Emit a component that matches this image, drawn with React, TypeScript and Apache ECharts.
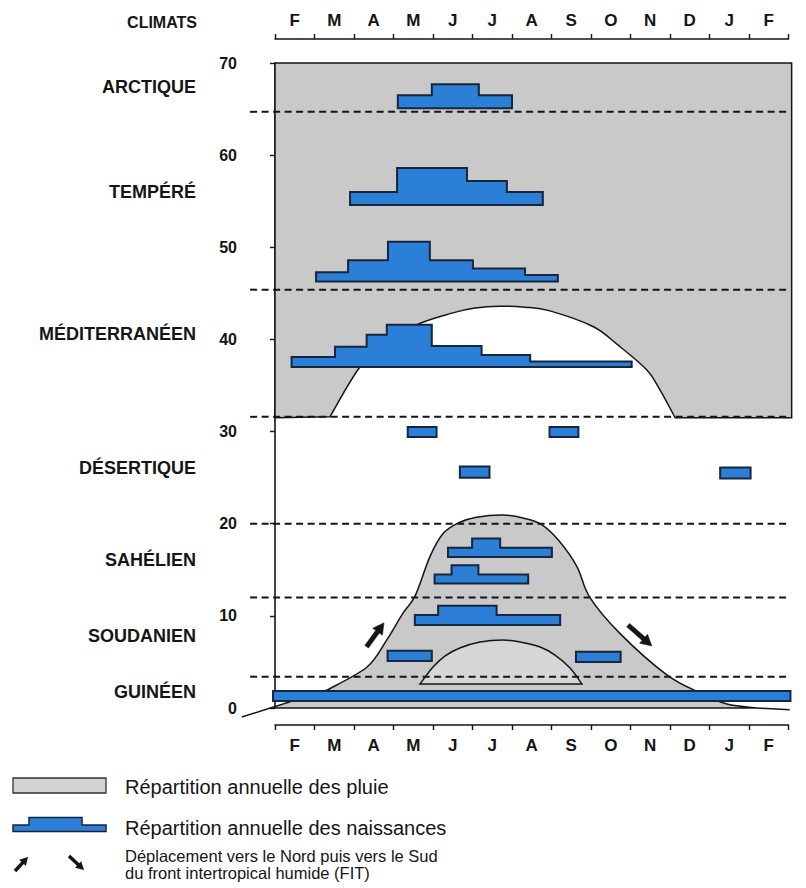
import React, { useEffect, useRef } from "react";
import * as echarts from "echarts";

// ---------- DATA ----------
const months = ["F", "M", "A", "M", "J", "J", "A", "S", "O", "N", "D", "J", "F"];

const climates = ["ARCTIQUE", "TEMPÉRÉ", "MÉDITERRANÉEN", "DÉSERTIQUE", "SAHÉLIEN", "SOUDANIEN", "GUINÉEN"];
const climateLevels = [67.4, 56.0, 40.6, 26.0, 16.1, 7.8, 1.7];

// limits between climate zones (dashed lines)
const zoneLimits = [64.7, 45.4, 31.6, 20.0, 12.0, 3.4];

// rain distribution, upper block (months x, latitude-ish y)
const upperRainX = [0, 13.08];
const upperRainY = [31.5, 70];
// dry season arch cut in the Mediterranean block
const medDryX = [1.39, 2.15, 2.83, 3.59, 4.43, 5.06, 5.7, 6.33, 6.96, 8.05, 8.68, 9.41, 9.75, 10.13];
const medDryY = [31.6, 37.0, 39.6, 41.6, 42.8, 43.4, 43.6, 43.5, 43.1, 41.4, 39.4, 36.7, 34.5, 31.5];

// tropical rain bell (FIT)
const bellFoot = [-0.84, -0.98];
const bellX = [1.32, 2.33, 2.83, 3.24, 3.55, 3.92, 4.25, 4.65, 5.1, 5.77, 6.3, 6.75, 7.2, 7.65, 7.97, 8.73, 9.92, 10.76, 11.44, 12.2];
const bellY = [1.95, 4.45, 7.4, 10.3, 12.2, 16.4, 18.9, 20.1, 20.7, 20.95, 20.6, 19.9, 18.1, 15.3, 12.0, 8.1, 3.6, 1.66, 0.43, 0];
const baseEnd = [13.03, -0.2];

// inner dome (Guinean short dry season)
const domeX = [3.67, 4.0, 4.3, 4.68, 5.19, 5.77, 6.2, 6.71, 7.09, 7.47, 7.77];
const domeY = [2.6, 4.45, 5.64, 6.51, 7.16, 7.38, 7.16, 6.62, 5.75, 4.34, 2.6];

// births distribution (step profiles): base, step edges (months), step tops
const arctiqueBirth = { base: 65.1, edges: [3.11, 3.97, 5.16, 6.0], tops: [66.5, 67.7, 66.5] };
const tempereBirth = { base: 54.6, edges: [1.9, 3.09, 4.86, 5.87, 6.78], tops: [56.0, 58.6, 57.2, 56.0] };
const medHautBirth = { base: 46.3, edges: [1.04, 1.85, 2.86, 3.92, 5.01, 6.33, 7.16], tops: [47.3, 48.6, 50.6, 48.6, 47.7, 47.0] };
const medBasBirth = { base: 37.0, edges: [0.42, 1.52, 2.32, 2.83, 3.97, 5.23, 6.46, 9.03], tops: [38.1, 39.2, 40.5, 41.6, 39.3, 38.3, 37.6] };
const desert1Birth = { base: 29.4, edges: [3.36, 4.09], tops: [30.5] };
const desert2Birth = { base: 29.4, edges: [6.95, 7.68], tops: [30.5] };
const desert3Birth = { base: 25.0, edges: [4.68, 5.43], tops: [26.2] };
const desert4Birth = { base: 24.9, edges: [11.27, 12.04], tops: [26.1] };
const sahel1Birth = { base: 16.4, edges: [4.38, 4.99, 5.7, 7.01], tops: [17.4, 18.4, 17.4] };
const sahel2Birth = { base: 13.5, edges: [4.04, 4.47, 5.15, 6.41], tops: [14.5, 15.5, 14.5] };
const soudan1Birth = { base: 9.0, edges: [3.54, 4.13, 5.61, 7.22], tops: [10.1, 11.1, 10.1] };
const soudan2Birth = { base: 5.1, edges: [2.85, 3.97], tops: [6.2] };
const soudan3Birth = { base: 5.0, edges: [7.62, 8.75], tops: [6.1] };
const guineeBirth = { base: 0.75, edges: [-0.05, 13.05], tops: [1.85] };

const births = [
  arctiqueBirth, tempereBirth, medHautBirth, medBasBirth,
  desert1Birth, desert2Birth, desert3Birth, desert4Birth,
  sahel1Birth, sahel2Birth, soudan1Birth, soudan2Birth, soudan3Birth, guineeBirth,
];

// FIT movement arrows [from, to]
const fitArrows = [
  [[2.32, 6.65], [2.76, 9.25]],
  [[8.94, 9.0], [9.54, 6.73]],
];

// ---------- STYLE ----------
const FONT = "'Liberation Sans', Arial, Helvetica, sans-serif";
const GREY = "#c9c9c9";
const DOME_GREY = "#d6d6d6";
const BLUE = "#2b7fd6";
const BLUE_STROKE = "#17263a";
const INK = "#151515";
const DASH_START_X = -0.63;
const DASH_END_X = 13.05;
const LABEL_X = -2.0;

function smoothSegs(pts: number[][]): string {
  let d = "";
  for (let i = 0; i < pts.length - 1; i++) {
    const p0 = pts[i - 1] || pts[i];
    const p1 = pts[i];
    const p2 = pts[i + 1];
    const p3 = pts[i + 2] || p2;
    const c1x = p1[0] + (p2[0] - p0[0]) / 6;
    const c1y = p1[1] + (p2[1] - p0[1]) / 6;
    const c2x = p2[0] - (p3[0] - p1[0]) / 6;
    const c2y = p2[1] - (p3[1] - p1[1]) / 6;
    d += ` C ${c1x} ${c1y} ${c2x} ${c2y} ${p2[0]} ${p2[1]}`;
  }
  return d;
}

function arrowPoints(p: number[], q: number[], shaft = 4.5, headLen = 11, headW = 12): number[][] {
  const dx = q[0] - p[0];
  const dy = q[1] - p[1];
  const len = Math.sqrt(dx * dx + dy * dy) || 1;
  const ux = dx / len;
  const uy = dy / len;
  const nx = -uy;
  const ny = ux;
  const bx = q[0] - ux * headLen;
  const by = q[1] - uy * headLen;
  return [
    [p[0] + (nx * shaft) / 2, p[1] + (ny * shaft) / 2],
    [bx + (nx * shaft) / 2, by + (ny * shaft) / 2],
    [bx + (nx * headW) / 2, by + (ny * headW) / 2],
    [q[0], q[1]],
    [bx - (nx * headW) / 2, by - (ny * headW) / 2],
    [bx - (nx * shaft) / 2, by - (ny * shaft) / 2],
    [p[0] - (nx * shaft) / 2, p[1] - (ny * shaft) / 2],
  ];
}

export default function App() {
  const ref = useRef<HTMLDivElement>(null);

  useEffect(() => {
    if (!ref.current) return;
    const chart = echarts.init(ref.current, undefined, { renderer: "svg" });

    const rainRender = (params: any, api: any) => {
      const c = (x: number, y: number) => api.coord([x, y]);
      // upper block with dry arch
      const tl = c(upperRainX[0], upperRainY[1]);
      const tr = c(upperRainX[1], upperRainY[1]);
      const br = c(upperRainX[1], upperRainY[0]);
      const bl = c(upperRainX[0], upperRainY[0]);
      const arch = medDryX.map((x, i) => c(x, medDryY[i])).reverse();
      let d1 = `M ${tl[0]} ${tl[1]} L ${tr[0]} ${tr[1]} L ${br[0]} ${br[1]} L ${arch[0][0]} ${arch[0][1]}`;
      d1 += smoothSegs(arch);
      d1 += ` L ${bl[0]} ${bl[1]} Z`;

      // bell
      const b0 = c(0, 0);
      const b1 = c(0, 0.16);
      const bell = bellX.map((x, i) => c(x, bellY[i]));
      let d2 = `M ${b0[0]} ${b0[1]} L ${b1[0]} ${b1[1]} L ${bell[0][0]} ${bell[0][1]}`;
      d2 += smoothSegs(bell);
      d2 += " Z";

      // dome
      const dome = domeX.map((x, i) => c(x, domeY[i]));
      const d3 = `M ${dome[0][0]} ${dome[0][1]}` + smoothSegs(dome) + " Z";

      const foot = c(bellFoot[0], bellFoot[1]);
      const bEnd = c(bellX[bellX.length - 1], bellY[bellY.length - 1]);
      const bExt = c(baseEnd[0], baseEnd[1]);

      return {
        type: "group",
        children: [
          { type: "path", shape: { pathData: d1 }, style: { fill: GREY, stroke: INK, lineWidth: 1.5 } },
          { type: "path", shape: { pathData: d2 }, style: { fill: GREY, stroke: INK, lineWidth: 1.5 } },
          { type: "path", shape: { pathData: d3 }, style: { fill: DOME_GREY, stroke: INK, lineWidth: 1.5 } },
          { type: "line", shape: { x1: foot[0], y1: foot[1], x2: b1[0], y2: b1[1] }, style: { stroke: INK, lineWidth: 1.5 } },
          { type: "line", shape: { x1: bEnd[0], y1: bEnd[1], x2: bExt[0], y2: bExt[1] }, style: { stroke: INK, lineWidth: 1.5 } },
        ],
      };
    };

    const dashRender = (params: any, api: any) => {
      const v = zoneLimits[params.dataIndex];
      const a = api.coord([DASH_START_X, v]);
      const b = api.coord([DASH_END_X, v]);
      return {
        type: "line",
        shape: { x1: a[0], y1: a[1], x2: b[0], y2: b[1] },
        style: { stroke: INK, lineWidth: 2, lineDash: [7, 4.5] },
      };
    };

    const birthRender = (params: any, api: any) => {
      const b = births[params.dataIndex];
      const pts: number[][] = [];
      pts.push(api.coord([b.edges[0], b.base]));
      for (let i = 0; i < b.tops.length; i++) {
        pts.push(api.coord([b.edges[i], b.tops[i]]));
        pts.push(api.coord([b.edges[i + 1], b.tops[i]]));
      }
      pts.push(api.coord([b.edges[b.edges.length - 1], b.base]));
      return {
        type: "polygon",
        shape: { points: pts },
        style: { fill: BLUE, stroke: BLUE_STROKE, lineWidth: 2, lineJoin: "miter" },
      };
    };

    const arrowRender = (params: any, api: any) => {
      const a = fitArrows[params.dataIndex];
      const p = api.coord(a[0]);
      const q = api.coord(a[1]);
      return {
        type: "polygon",
        shape: { points: arrowPoints(p, q) },
        style: { fill: INK, stroke: INK, lineWidth: 0.5 },
      };
    };

    const labelRender = (params: any, api: any) => {
      const p = api.coord([LABEL_X, climateLevels[params.dataIndex]]);
      return {
        type: "text",
        x: p[0],
        y: p[1],
        style: {
          text: climates[params.dataIndex],
          fill: INK,
          fontSize: 18,
          fontWeight: "bold",
          fontFamily: FONT,
          align: "right",
          verticalAlign: "middle",
          textAlign: "right",
          textVerticalAlign: "middle",
        },
      };
    };

    const legendText = (text: string, y: number, size: number) => ({
      type: "text",
      x: 125,
      y,
      style: {
        text,
        fill: INK,
        fontSize: size,
        fontFamily: FONT,
        align: "left",
        verticalAlign: "middle",
        textAlign: "left",
        textVerticalAlign: "middle",
      },
    });

    const monthAxisLabel = { fontSize: 17, fontWeight: "bold", color: INK, fontFamily: FONT };

    chart.setOption({
      animation: false,
      backgroundColor: "#ffffff",
      grid: { left: 275, right: 17.5, top: 63, bottom: 180, containLabel: false },
      xAxis: [
        { type: "value", min: 0, max: 13, show: false },
        {
          type: "category",
          data: months,
          position: "bottom",
          offset: 17,
          boundaryGap: true,
          axisLine: { show: true, lineStyle: { color: INK, width: 1.6 } },
          axisTick: { show: true, length: 5, interval: 0, lineStyle: { color: INK, width: 1.4 } },
          axisLabel: { ...monthAxisLabel, margin: 12, interval: 0 },
          splitLine: { show: false },
        },
        {
          type: "category",
          data: months,
          position: "top",
          offset: 24,
          boundaryGap: true,
          axisLine: { show: true, lineStyle: { color: INK, width: 1.6 } },
          axisTick: { show: true, length: 5, interval: 0, lineStyle: { color: INK, width: 1.4 } },
          axisLabel: { ...monthAxisLabel, margin: 10, interval: 0 },
          splitLine: { show: false },
        },
      ],
      yAxis: {
        type: "value",
        min: 0,
        max: 70,
        interval: 10,
        position: "left",
        offset: 28,
        axisLine: { show: true, lineStyle: { color: INK, width: 1.6 } },
        axisTick: { show: true, length: 5, lineStyle: { color: INK, width: 1.4 } },
        axisLabel: { fontSize: 16, fontWeight: "bold", color: INK, fontFamily: FONT, margin: 10 },
        splitLine: { show: false },
      },
      series: [
        { type: "custom", name: "pluie", xAxisIndex: 0, yAxisIndex: 0, data: [[0, 0]], renderItem: rainRender, silent: true, z: 1 },
        { type: "custom", name: "limites", xAxisIndex: 0, yAxisIndex: 0, data: zoneLimits.map((v) => [0, v]), renderItem: dashRender, silent: true, z: 2 },
        { type: "custom", name: "naissances", xAxisIndex: 0, yAxisIndex: 0, data: births.map((b) => [b.edges[0], b.base]), renderItem: birthRender, silent: true, z: 3 },
        { type: "custom", name: "FIT", xAxisIndex: 0, yAxisIndex: 0, data: fitArrows.map((a) => a[0]), renderItem: arrowRender, silent: true, z: 4 },
        { type: "custom", name: "climats", xAxisIndex: 0, yAxisIndex: 0, data: climateLevels.map((v) => [0, v]), renderItem: labelRender, silent: true, z: 5 },
      ],
      graphic: [
        {
          type: "text",
          x: 197,
          y: 22,
          style: {
            text: "CLIMATS",
            fill: INK,
            fontSize: 16,
            fontWeight: "bold",
            fontFamily: FONT,
            align: "right",
            verticalAlign: "middle",
            textAlign: "right",
            textVerticalAlign: "middle",
          },
        },
        { type: "rect", shape: { x: 13, y: 778, width: 93, height: 15 }, style: { fill: "#d2d2d2", stroke: "#333", lineWidth: 1.3 } },
        {
          type: "polygon",
          shape: { points: [[13, 831.5], [13, 825], [29, 825], [29, 817.5], [82, 817.5], [82, 825], [106, 825], [106, 831.5]] },
          style: { fill: BLUE, stroke: BLUE_STROKE, lineWidth: 1.5 },
        },
        { type: "polygon", shape: { points: arrowPoints([15, 871], [28, 857], 3.5, 8, 9) }, style: { fill: INK } },
        { type: "polygon", shape: { points: arrowPoints([69, 856], [84, 870], 3.5, 8, 9) }, style: { fill: INK } },
        legendText("Répartition annuelle des pluie", 787, 20),
        legendText("Répartition annuelle des naissances", 828, 20),
        legendText("Déplacement vers le Nord puis vers le Sud", 856, 16.5),
        legendText("du front intertropical humide (FIT)", 873, 16.5),
      ],
    });

    return () => chart.dispose();
  }, []);

  return (
    <div
      ref={ref}
      style={{ position: "fixed", left: 0, top: 0, width: 806, height: 888, background: "#fff" }}
    />
  );
}
